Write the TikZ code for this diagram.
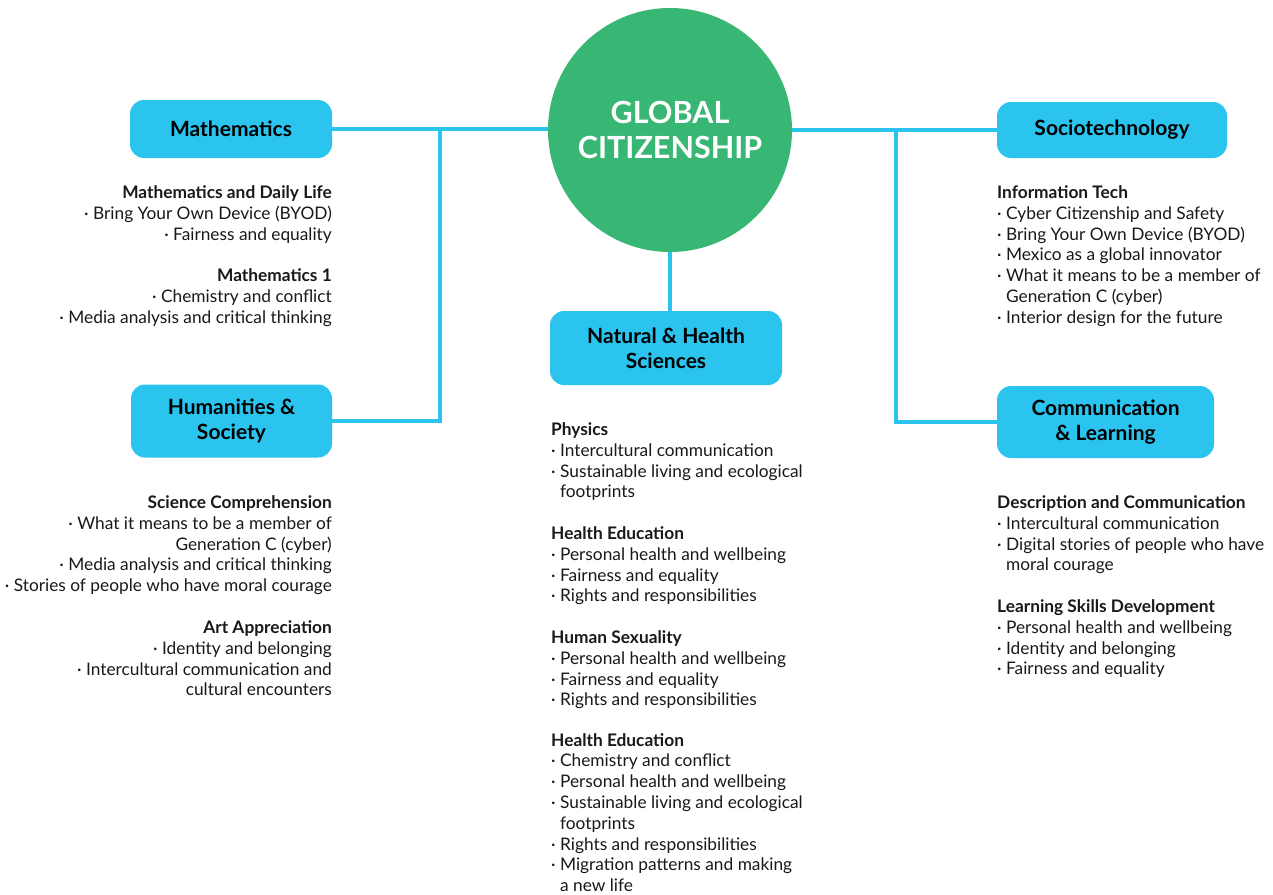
\documentclass[tikz,border=0pt]{standalone}
\usepackage{fontspec}
\setmainfont{Lato}
\usetikzlibrary{backgrounds}
\definecolor{gcgreen}{RGB}{56,182,115}
\definecolor{gccyan}{RGB}{42,196,239}
\newcommand\itm{·\ }
\newcommand\cnt{\phantom{·\ }}
\tikzset{
  topic/.style={rounded corners=14pt, fill=gccyan, inner sep=0pt, align=center,
    font=\fontsize{21}{25}\selectfont\bfseries, text=black},
  conn/.style={draw=gccyan, line width=4pt},
  blk/.style={inner sep=0pt, font=\fontsize{17.3}{20.8}\selectfont, text=black!90},
}
\begin{document}
\begin{tikzpicture}[x=1pt,y=-1pt]
\useasboundingbox (0,0) rectangle (1273,894);

% central circle
\node[circle, fill=gcgreen, minimum size=244pt, inner sep=0pt, align=center,
  text=white, font=\fontsize{30.5}{35}\selectfont\bfseries] (circ) at (670,130) {GLOBAL\\CITIZENSHIP};

% topic boxes
\node[topic, minimum width=202pt, minimum height=58pt] (math) at (231,129) {Mathematics};
\node[topic, minimum width=201pt, minimum height=73pt] (hum) at (231.5,421) {Humanities \&\\Society};
\node[topic, minimum width=232pt, minimum height=74pt] (nat) at (666,348) {Natural \& Health\\Sciences};
\node[topic, minimum width=230pt, minimum height=56pt] (soc) at (1112,130) {Sociotechnology};
\node[topic, minimum width=217pt, minimum height=72pt] (com) at (1105.5,422) {Communication\\\& Learning};

% junctions
\coordinate (jl) at (440,129);
\coordinate (jr) at (896,130);

% connectors
\begin{scope}[on background layer]
\fill[white] (0,0) rectangle (1273,894);
\draw[conn] (math.east) -- (math.east -| circ.west);
\draw[conn] (hum.east) -| (jl);
\draw[conn] (soc.west) -- (soc.west -| circ.east);
\draw[conn] (com.west) -| (jr);
\draw[conn] (circ.south) -- (circ.south |- nat.north);
\end{scope}

% left text blocks
\node[blk, anchor=base east] (l1) at (332,198.5) {\begin{tabular}[t]{@{}r@{}}
\textbf{Mathematics and Daily Life}\\
\itm Bring Your Own Device (BYOD)\\
\itm Fairness and equality\end{tabular}};
\node[blk, anchor=base east] (l2) at (332,281.5) {\begin{tabular}[t]{@{}r@{}}
\textbf{Mathematics 1}\\
\itm Chemistry and conflict\\
\itm Media analysis and critical thinking\end{tabular}};
\node[blk, anchor=base east] (l3) at (332,508.5) {\begin{tabular}[t]{@{}r@{}}
\textbf{Science Comprehension}\\
\itm What it means to be a member of\\
Generation C (cyber)\\
\itm Media analysis and critical thinking\\
\itm Stories of people who have moral courage\end{tabular}};
\node[blk, anchor=base east] (l4) at (332,633.5) {\begin{tabular}[t]{@{}r@{}}
\textbf{Art Appreciation}\\
\itm Identity and belonging\\
\itm Intercultural communication and\\
cultural encounters\end{tabular}};

% middle text blocks
\node[blk, anchor=base west] (m1) at (551,435.5) {\begin{tabular}[t]{@{}l@{}}
\textbf{Physics}\\
\itm Intercultural communication\\
\itm Sustainable living and ecological\\
\cnt footprints\end{tabular}};
\node[blk, anchor=base west] (m2) at (551,539.5) {\begin{tabular}[t]{@{}l@{}}
\textbf{Health Education}\\
\itm Personal health and wellbeing\\
\itm Fairness and equality\\
\itm Rights and responsibilities\end{tabular}};
\node[blk, anchor=base west] (m3) at (551,643.5) {\begin{tabular}[t]{@{}l@{}}
\textbf{Human Sexuality}\\
\itm Personal health and wellbeing\\
\itm Fairness and equality\\
\itm Rights and responsibilities\end{tabular}};
\node[blk, anchor=base west] (m4) at (551,746) {\vtop{\baselineskip=20.8pt
\hbox{\textbf{Health Education}}
\hbox{\itm Chemistry and conflict}
\hbox{\itm Personal health and wellbeing}
\hbox{\itm Sustainable living and ecological}
\hbox{\cnt footprints}
\hbox{\itm Rights and responsibilities}
\hbox{\itm Migration patterns and making}
\hbox{\cnt a new life}}};

% right text blocks
\node[blk, anchor=base west] (r1) at (997,198.5) {\begin{tabular}[t]{@{}l@{}}
\textbf{Information Tech}\\
\itm Cyber Citizenship and Safety\\
\itm Bring Your Own Device (BYOD)\\
\itm Mexico as a global innovator\\
\itm What it means to be a member of\\
\cnt Generation C (cyber)\\
\itm Interior design for the future\end{tabular}};
\node[blk, anchor=base west] (r2) at (997,508.5) {\begin{tabular}[t]{@{}l@{}}
\textbf{Description and Communication}\\
\itm Intercultural communication\\
\itm Digital stories of people who have\\
\cnt moral courage\end{tabular}};
\node[blk, anchor=base west] (r3) at (997,612.5) {\begin{tabular}[t]{@{}l@{}}
\textbf{Learning Skills Development}\\
\itm Personal health and wellbeing\\
\itm Identity and belonging\\
\itm Fairness and equality\end{tabular}};
\end{tikzpicture}
\end{document}
